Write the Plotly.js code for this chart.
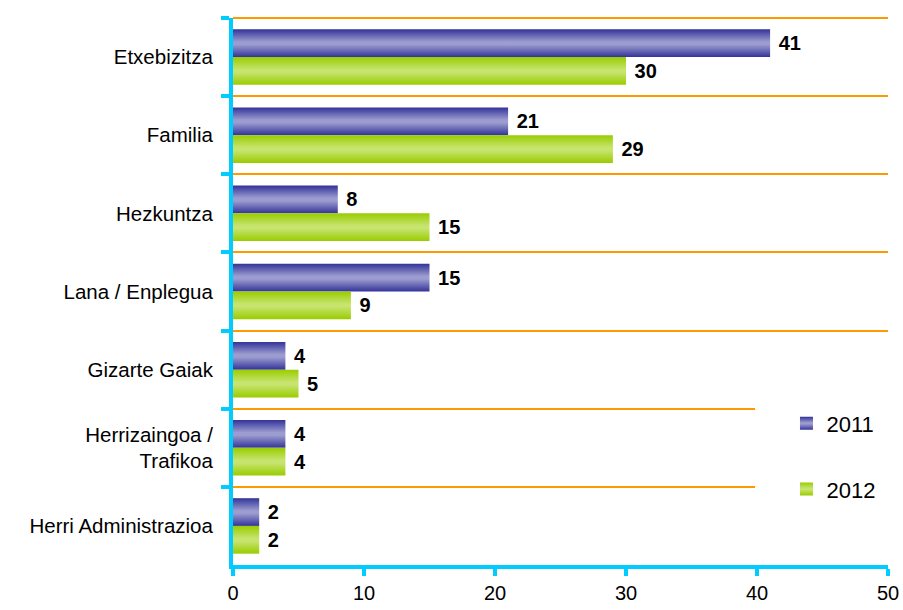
<!DOCTYPE html>
<html>
<head>
<meta charset="utf-8">
<script src="https://cdn.plot.ly/plotly-3.0.1.min.js"></script>
<style>html,body{margin:0;padding:0;background:#fff;}#chart{width:903px;height:610px;}</style>
</head>
<body>
<div id="chart"></div>
<script>
const categories = ["Etxebizitza", "Familia", "Hezkuntza", "Lana / Enplegua", "Gizarte Gaiak", "Herrizaingoa /<br>Trafikoa", "Herri Administrazioa"];
const values2011 = [41, 21, 8, 15, 4, 4, 2];
const values2012 = [30, 29, 15, 9, 5, 4, 2];
const seriesNames = ["2011", "2012"];
const xTicks = [0, 10, 20, 30, 40, 50];

const c2011 = "#6264ad";
const c2012 = "#a8d32f";
const cyan = "#00ccff";
const orange = "#ff9900";

const labelFont = {family: "Liberation Sans, Arial, sans-serif", size: 20, color: "#000", weight: "bold"};

const traces = [
  {type: "bar", orientation: "h", y: categories, x: values2011, name: seriesNames[0],
   marker: {color: c2011}, texttemplate: "\u00a0%{x}", textposition: "outside",
   textfont: labelFont, cliponaxis: false, showlegend: false},
  {type: "bar", orientation: "h", y: categories, x: values2012, name: seriesNames[1],
   marker: {color: c2012}, texttemplate: "\u00a0%{x}", textposition: "outside",
   textfont: labelFont, cliponaxis: false, showlegend: false},
  {type: "scatter", mode: "markers", x: [null], y: [null], name: seriesNames[0], legendgroup: "a",
   marker: {symbol: "square", size: 13, color: c2011}, hoverinfo: "skip"},
  {type: "scatter", mode: "markers", x: [null], y: [null], name: seriesNames[1], legendgroup: "b",
   marker: {symbol: "square", size: 13, color: c2012}, hoverinfo: "skip"}
];

const layout = {
  width: 903, height: 610,
  margin: {l: 233, r: 15, t: 18, b: 45},
  paper_bgcolor: "#fff", plot_bgcolor: "#fff",
  font: {family: "Liberation Sans, Arial, sans-serif", size: 20, color: "#000"},
  barmode: "group", bargap: 0.29, bargroupgap: 0,
  xaxis: {range: [0, 50], tickvals: xTicks, showgrid: false, zeroline: false,
    showline: true, linecolor: cyan, linewidth: 4,
    ticks: "outside", ticklen: 7, tickwidth: 4, tickcolor: cyan,
    tickfont: {size: 20, color: "#000"}},
  yaxis: {autorange: "reversed", tickson: "boundaries", showgrid: true, gridcolor: orange, gridwidth: 2,
    showline: true, linecolor: cyan, linewidth: 4, zeroline: false,
    ticks: "outside", ticklen: 8, tickwidth: 4, tickcolor: cyan, ticklabelstandoff: 12,
    tickfont: {size: 20.5, color: "#000"}},
  shapes: [
    {type: "line", xref: "paper", yref: "paper", x0: 0, x1: 1, y0: 1, y1: 1,
     line: {color: orange, width: 2}, layer: "below"},
    {type: "rect", xref: "paper", yref: "paper", x0: 0.797, x1: 1.0, y0: 0.1, y1: 0.3,
     fillcolor: "#fff", line: {width: 0}, layer: "above"}
  ],
  legend: {x: 0.845, y: 0.297, xanchor: "left", yanchor: "top", bgcolor: "rgba(0,0,0,0)",
    traceorder: "grouped", tracegroupgap: 34, font: {size: 22, color: "#000"}},
  showlegend: true
};

Plotly.newPlot("chart", traces, layout, {displayModeBar: false, staticPlot: true}).then(function(gd){
  const svg = gd.querySelector(".main-svg");
  const ns = "http://www.w3.org/2000/svg";
  let defs = svg.querySelector("defs");
  if (!defs) { defs = document.createElementNS(ns, "defs"); svg.insertBefore(defs, svg.firstChild); }
  function grad(id, edge, mid) {
    const g = document.createElementNS(ns, "linearGradient");
    g.setAttribute("id", id); g.setAttribute("x1", "0"); g.setAttribute("y1", "0");
    g.setAttribute("x2", "0"); g.setAttribute("y2", "1");
    [[0, edge], [0.45, mid], [0.55, mid], [1, edge]].forEach(function(s){
      const st = document.createElementNS(ns, "stop");
      st.setAttribute("offset", s[0]); st.setAttribute("stop-color", s[1]);
      g.appendChild(st);
    });
    defs.appendChild(g);
  }
  grad("g2011", "#333399", "#9c9cd0");
  grad("g2012", "#99cc00", "#c6e46e");
  const bars = gd.querySelectorAll(".barlayer .trace");
  const ids = ["g2011", "g2012"];
  bars.forEach(function(t, i){
    t.querySelectorAll(".point path").forEach(function(p){ p.style.fill = "url(#" + ids[i] + ")"; });
  });
  const legPts = gd.querySelectorAll(".legend .traces .legendpoints path");
  legPts.forEach(function(p, i){ if (ids[i]) p.style.fill = "url(#" + ids[i] + ")"; });
});
</script>
</body>
</html>
